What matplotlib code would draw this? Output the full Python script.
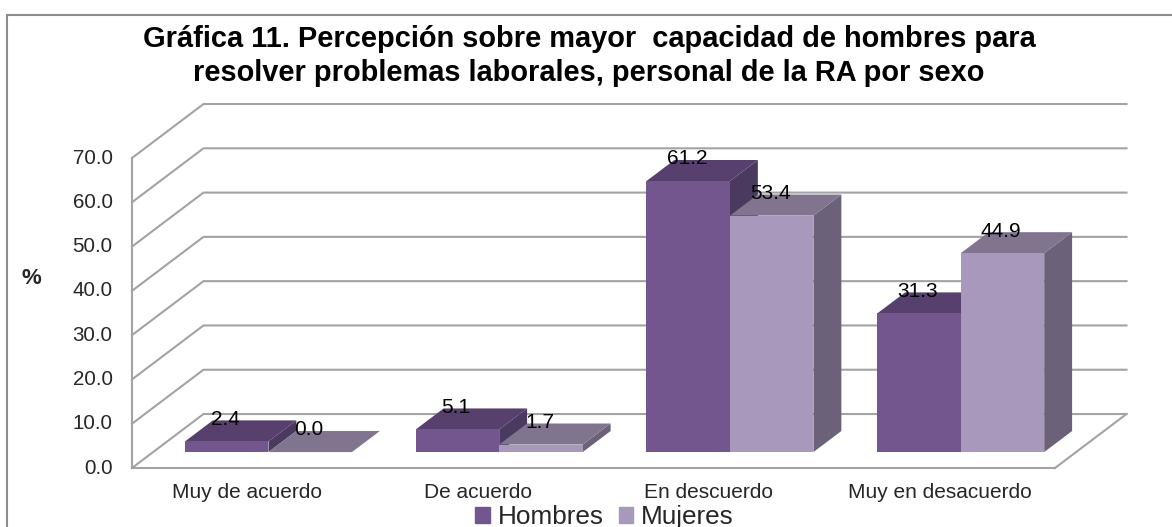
import matplotlib
matplotlib.use("Agg")
import matplotlib.pyplot as plt
from matplotlib.lines import Line2D
from matplotlib.patches import Patch, Polygon

plt.rcParams['font.family'] = ['Liberation Sans', 'DejaVu Sans']

categories = ["Muy de acuerdo", "De acuerdo", "En descuerdo", "Muy en desacuerdo"]
hombres = [2.4, 5.1, 61.2, 31.3]
mujeres = [0.0, 1.7, 53.4, 44.9]
yticks = [0, 10, 20, 30, 40, 50, 60, 70]
title = ("Gráfica 11. Percepción sobre mayor  capacidad de hombres para\n"
         "resolver problemas laborales, personal de la RA por sexo")

# colours: front, top, side
col_h = ("#73568E", "#57406D", "#4A3A60")
col_m = ("#A898BC", "#80748F", "#6B6279")
grid_col = "#A3A3A3"

fig = plt.figure(figsize=(11.72, 5.27), dpi=100)
ax = fig.add_axes([132 / 1172, 59 / 527, 923 / 1172, 310 / 527])
ax.set_xlim(-0.5, 3.5)
ax.set_ylim(0, 70)
ax.patch.set_alpha(0)

# fake 3D: depth 0 is the front plane, depth 1 the back wall
DX = 71.5 / 230.75
DY = 54 / 4.43


def pt(x, y, d):
    return (x + d * DX, y + d * DY)


def face(points, color, z):
    ax.add_patch(Polygon(points, closed=True, fc=color, ec="none", clip_on=False, zorder=z))


# wall and floor
for v in yticks:
    a, b, c = pt(-0.5, v, 0), pt(-0.5, v, 1), pt(3.5, v, 1)
    ax.plot([a[0], b[0], c[0]], [a[1], b[1], c[1]], color=grid_col, lw=1.5,
            clip_on=False, zorder=1, solid_joinstyle="miter")
a, b = pt(3.5, 0, 0), pt(3.5, 0, 1)
ax.plot([a[0], b[0]], [a[1], b[1]], color=grid_col, lw=1.5, clip_on=False, zorder=1)
ax.plot([-0.5, 3.5], [0, 0], color=grid_col, lw=1.5, clip_on=False, zorder=1)
ax.plot([-0.5, -0.5], [0, 70], color=grid_col, lw=1.5, clip_on=False, zorder=1)

# bars
bar_w = 83.5 / 230.75
d0, d1 = 0.295, 0.685
z = 2
for i in range(len(categories)):
    for j, (val, col) in enumerate([(hombres[i], col_h), (mujeres[i], col_m)]):
        x0 = i - bar_w + j * bar_w
        x1 = x0 + bar_w
        face([pt(x1, 0, d0), pt(x1, 0, d1), pt(x1, val, d1), pt(x1, val, d0)], col[2], z)
        face([pt(x0, val, d0), pt(x1, val, d0), pt(x1, val, d1), pt(x0, val, d1)], col[1], z)
        if val > 0:
            face([pt(x0, 0, d0), pt(x1, 0, d0), pt(x1, val, d0), pt(x0, val, d0)], col[0], z)
        z += 1

for i in range(len(categories)):
    for j, val in enumerate([hombres[i], mujeres[i]]):
        x = i - bar_w / 2 + j * bar_w
        ax.annotate(f"{val:.1f}", pt(x, val, d0), xytext=(-1, 16), textcoords="offset points",
                    ha="center", va="center", fontsize=15, color="#000000",
                    annotation_clip=False, zorder=30)

# axes
for s in ax.spines.values():
    s.set_visible(False)
ax.set_yticks(yticks)
ax.set_yticklabels([f"{v:.1f}" for v in yticks], fontsize=14.8, color="#262626", va="center")
ax.set_xticks(range(len(categories)))
ax.set_xticklabels(categories, fontsize=15, color="#262626")
ax.tick_params(axis="both", length=0)
ax.tick_params(axis="y", pad=14)
ax.tick_params(axis="x", pad=10.5)
ax.set_ylabel("%", rotation=0, fontsize=16, fontweight="bold", color="#262626")
ax.yaxis.set_label_coords(-101 / 923, 179 / 310)

fig.text(589 / 1172, 1 - 56 / 527, title, ha="center", va="center", fontsize=20.9,
         fontweight="bold", color="#000000", linespacing=1.23)

handles = [Patch(color=col_h[0], label="Hombres"), Patch(color=col_m[0], label="Mujeres")]
fig.legend(handles=handles, loc="center", bbox_to_anchor=(604.5 / 1172, 1 - 517 / 527), ncol=2,
           frameon=False, fontsize=18.8, handlelength=0.55, handleheight=0.55,
           handletextpad=0.3, columnspacing=0.57, labelcolor="#262626",
           borderpad=0, borderaxespad=0)

# outer frame, only top and left edge are in the image
fig.add_artist(Line2D([7 / 1172, 7 / 1172, 1], [0, 1 - 15 / 527, 1 - 15 / 527],
                      transform=fig.transFigure, color="#8C8C8C", lw=1.5,
                      solid_joinstyle="miter"))

fig.savefig("out.png", dpi=100)
